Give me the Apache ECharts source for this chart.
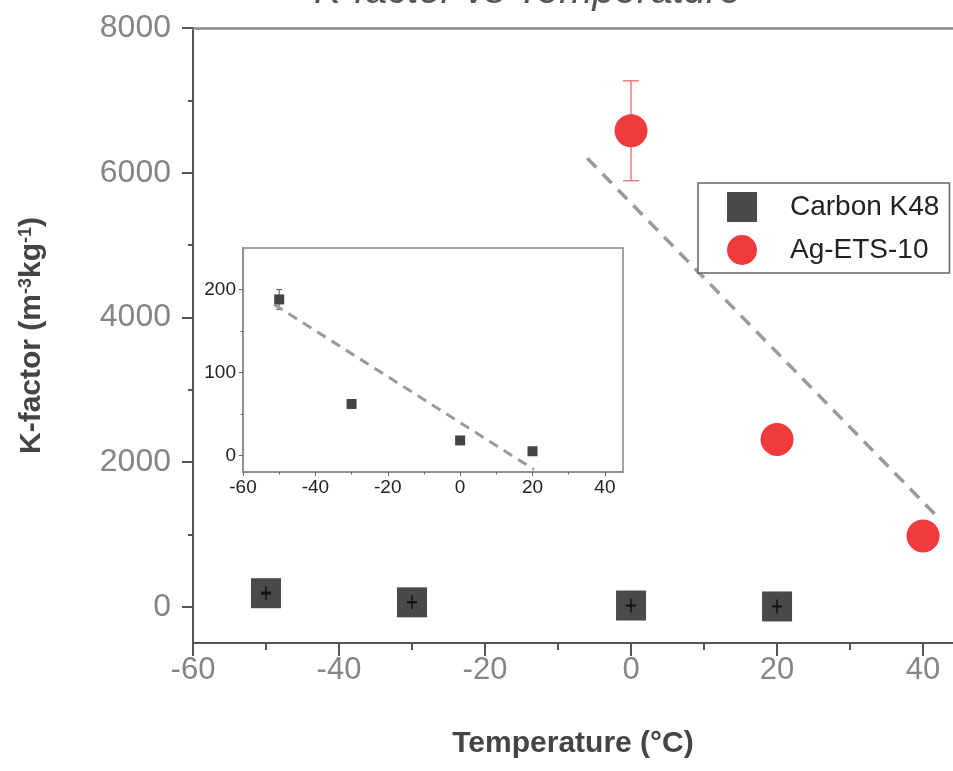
<!DOCTYPE html>
<html>
<head>
<meta charset="utf-8">
<script src="https://cdn.jsdelivr.net/npm/echarts@6/dist/echarts.min.js"></script>
<style>html,body{margin:0;padding:0;background:#fff}#c{width:953px;height:771px}</style>
</head>
<body>
<div id="c"></div>
<script>
// ---- data ----
const carbonX = [-50, -30, 0, 20];
const carbonY = [188, 62, 18, 5];
const carbonErr = [12, 4, 3, 2];
const agX = [0, 20, 40];
const agY = [6580, 2314, 980];
const agErr = [690, 150, 100];
const mainTrendX = [-6, 42.3];
const mainTrendY = [6200, 1210];
const insetTrendX = [-51.4, 20.4];
const insetTrendY = [182, -17];
const mainXLabels = [-60, -40, -20, 0, 20, 40];
const mainXMinor = [-50, -30, -10, 10, 30];
const mainYLabels = [0, 2000, 4000, 6000, 8000];
const mainYMinor = [1000, 3000, 5000, 7000];
const insetXLabels = [-60, -40, -20, 0, 20, 40];
const insetXMinor = [-50, -30, -10, 10, 30];
const insetYLabels = [0, 100, 200];
const insetYMinor = [50, 150];

const FONT = "'Liberation Sans', Arial, sans-serif";
const pairs = (xs, ys) => xs.map((x, i) => [x, ys[i]]);
const triples = (xs, ys, es) => xs.map((x, i) => [x, ys[i], es[i]]);
const plain = v => String(v);

function errRender(color, lw, cap, minPx) {
  return function (params, api) {
    const x = api.value(0), y = api.value(1), e = api.value(2);
    const c = api.coord([x, y]);
    const t = api.coord([x, y + e]);
    const b = api.coord([x, y - e]);
    const vt = Math.min(t[1], c[1] - minPx);
    const vb = Math.max(b[1], c[1] + minPx);
    const st = { stroke: color, lineWidth: lw };
    return {
      type: 'group',
      children: [
        { type: 'line', shape: { x1: c[0], y1: vt, x2: c[0], y2: vb }, style: st },
        { type: 'line', shape: { x1: c[0] - cap, y1: t[1], x2: c[0] + cap, y2: t[1] }, style: st },
        { type: 'line', shape: { x1: c[0] - cap, y1: b[1], x2: c[0] + cap, y2: b[1] }, style: st }
      ]
    };
  };
}

const MAIN_XMAX = 44.1;

const chart = echarts.init(document.getElementById('c'), null, { renderer: 'canvas' });
const option = {
  animation: false,
  backgroundColor: '#fff',
  textStyle: { fontFamily: FONT },
  title: {
    text: 'K-factor vs Temperature',
    left: 309, top: -33,
    textStyle: { fontSize: 40, fontStyle: 'italic', fontWeight: 'normal', color: '#555', fontFamily: FONT }
  },
  legend: {
    data: ['Carbon K48', 'Ag-ETS-10'],
    orient: 'vertical',
    left: 698, top: 183,
    itemWidth: 30, itemHeight: 30, itemGap: 13,
    padding: [9, 10, 8, 29],
    borderColor: '#666', borderWidth: 1.5,
    backgroundColor: '#fff',
    textStyle: { fontSize: 28, color: '#222', fontFamily: FONT, padding: [0, 0, 0, 28] }
  },
  grid: [
    { left: 193, top: 28, right: 0, bottom: 128 },
    { left: 243, top: 248, width: 380, height: 224, show: true, borderColor: '#888', borderWidth: 1.5, backgroundColor: '#fff', z: 5 }
  ],
  xAxis: [
    {
      type: 'value', gridIndex: 0, min: -60, max: MAIN_XMAX, position: 'bottom',
      axisLine: { show: true, onZero: false, lineStyle: { color: '#555', width: 2 } },
      axisTick: { show: true, length: 13, lineStyle: { color: '#555', width: 2 }, customValues: mainXLabels },
      axisLabel: { show: true, customValues: mainXLabels, formatter: plain, margin: 12, fontSize: 31, color: '#858585', fontFamily: FONT },
      splitLine: { show: false },
      name: 'Temperature (°C)', nameLocation: 'middle', nameGap: 86,
      nameTextStyle: { fontSize: 30, fontWeight: 'bold', color: '#444', fontFamily: FONT }
    },
    {
      type: 'value', gridIndex: 0, min: -60, max: MAIN_XMAX, position: 'bottom',
      axisLine: { show: false, onZero: false },
      axisTick: { show: true, length: 7, lineStyle: { color: '#555', width: 2 }, customValues: mainXMinor },
      axisLabel: { show: false }, splitLine: { show: false }
    },
    {
      type: 'value', gridIndex: 0, min: -60, max: MAIN_XMAX, position: 'top',
      axisLine: { show: true, onZero: false, lineStyle: { color: '#8a8a8a', width: 2.5 } },
      axisTick: { show: false }, axisLabel: { show: false }, splitLine: { show: false }
    },
    {
      type: 'value', gridIndex: 1, min: -60, max: 45, position: 'bottom',
      axisLine: { show: true, onZero: false, lineStyle: { color: '#888', width: 1.5 } },
      axisTick: { show: true, length: 4, lineStyle: { color: '#666', width: 1 }, customValues: insetXLabels },
      axisLabel: { show: true, customValues: insetXLabels, formatter: plain, margin: 6, fontSize: 19, color: '#222', fontFamily: FONT },
      splitLine: { show: false }, z: 6
    },
    {
      type: 'value', gridIndex: 1, min: -60, max: 45, position: 'bottom',
      axisLine: { show: false, onZero: false },
      axisTick: { show: true, length: 2.5, lineStyle: { color: '#666', width: 1 }, customValues: insetXMinor },
      axisLabel: { show: false }, splitLine: { show: false }, z: 6
    }
  ],
  yAxis: [
    {
      type: 'value', gridIndex: 0, min: -500, max: 8000, position: 'left',
      axisLine: { show: true, onZero: false, lineStyle: { color: '#555', width: 2 } },
      axisTick: { show: true, length: 11, lineStyle: { color: '#555', width: 2 }, customValues: mainYLabels },
      axisLabel: { show: true, customValues: mainYLabels, formatter: plain, margin: 22, fontSize: 32, color: '#858585', fontFamily: FONT },
      splitLine: { show: false },
      name: 'K-factor (m{s|-3}kg{s|-1})', nameLocation: 'middle', nameGap: 146, nameRotate: 90,
      nameTextStyle: {
        fontSize: 30, fontWeight: 'bold', color: '#444', fontFamily: FONT,
        rich: { s: { fontSize: 18, fontWeight: 'bold', color: '#444', verticalAlign: 'top', fontFamily: FONT, padding: [0, 0, 12, 0] } }
      }
    },
    {
      type: 'value', gridIndex: 0, min: -500, max: 8000, position: 'left',
      axisLine: { show: false, onZero: false },
      axisTick: { show: true, length: 5, lineStyle: { color: '#555', width: 2 }, customValues: mainYMinor },
      axisLabel: { show: false }, splitLine: { show: false }
    },
    {
      type: 'value', gridIndex: 1, min: -20, max: 250, position: 'left',
      axisLine: { show: true, onZero: false, lineStyle: { color: '#888', width: 1.5 } },
      axisTick: { show: true, length: 4, lineStyle: { color: '#666', width: 1 }, customValues: insetYLabels },
      axisLabel: { show: true, customValues: insetYLabels, formatter: plain, margin: 7, fontSize: 19, color: '#222', fontFamily: FONT },
      splitLine: { show: false }, z: 6
    },
    {
      type: 'value', gridIndex: 1, min: -20, max: 250, position: 'left',
      axisLine: { show: false, onZero: false },
      axisTick: { show: true, length: 2.5, lineStyle: { color: '#666', width: 1 }, customValues: insetYMinor },
      axisLabel: { show: false }, splitLine: { show: false }, z: 6
    }
  ],
  series: [
    {
      name: 'Ag-ETS-10 err', type: 'custom', xAxisIndex: 0, yAxisIndex: 0, z: 2,
      renderItem: errRender('#ee7b7b', 1.5, 8, 0),
      data: triples(agX, agY, agErr)
    },
    {
      name: 'Main trend', type: 'line', xAxisIndex: 0, yAxisIndex: 0, z: 2,
      data: pairs(mainTrendX, mainTrendY), symbol: 'none',
      lineStyle: { color: '#9a9a9a', width: 3.5, type: [13, 9] }
    },
    {
      name: 'Carbon K48', type: 'scatter', xAxisIndex: 0, yAxisIndex: 0, z: 3,
      symbol: 'rect', symbolSize: 30,
      itemStyle: { color: '#4a4a4a', opacity: 1 },
      data: pairs(carbonX, carbonY)
    },
    {
      name: 'Carbon err', type: 'custom', xAxisIndex: 0, yAxisIndex: 0, z: 4,
      renderItem: errRender('#111', 1.5, 5, 7),
      data: triples(carbonX, carbonY, carbonErr)
    },
    {
      name: 'Ag-ETS-10', type: 'scatter', xAxisIndex: 0, yAxisIndex: 0, z: 3,
      symbol: 'circle', symbolSize: 33,
      itemStyle: { color: '#f03b3d', opacity: 1 },
      data: pairs(agX, agY)
    },
    {
      name: 'Inset trend', type: 'line', xAxisIndex: 3, yAxisIndex: 2, z: 7,
      data: pairs(insetTrendX, insetTrendY), symbol: 'none',
      lineStyle: { color: '#9a9a9a', width: 3, type: [10, 7] }
    },
    {
      name: 'Inset err', type: 'custom', xAxisIndex: 3, yAxisIndex: 2, z: 7,
      renderItem: errRender('#555', 1, 3, 0),
      data: triples(carbonX, carbonY, carbonErr)
    },
    {
      name: 'Carbon K48 inset', type: 'scatter', xAxisIndex: 3, yAxisIndex: 2, z: 8,
      symbol: 'rect', symbolSize: 10,
      itemStyle: { color: '#444', opacity: 1 },
      data: pairs(carbonX, carbonY)
    }
  ]
};
chart.setOption(option);
</script>
</body>
</html>
